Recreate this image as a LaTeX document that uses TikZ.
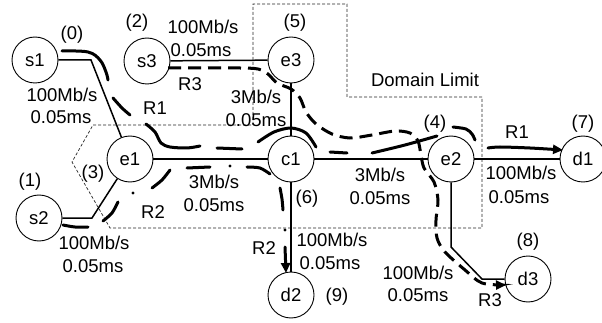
\documentclass[tikz,border=0pt]{standalone}
\usepackage{fontspec}
\setmainfont{Liberation Sans}
\usetikzlibrary{arrows.meta}
\begin{document}
\begin{tikzpicture}[x=1pt,y=-1pt,
  nd/.style={circle,draw,line width=0.9pt,minimum size=46pt,inner sep=0pt,font=\fontsize{18.5}{21}\selectfont},
  lbl/.style={inner sep=0pt,text height=13.3pt,text depth=0pt,font=\fontsize{18.5}{21}\selectfont},
  lnk/.style={line width=1.5pt},
  rt/.style={line width=3pt,line cap=round},
  rtdash/.style={line width=3pt,dash pattern=on 13pt off 7pt},
  arrowhd/.style={-{Triangle[length=10pt,width=9pt]}},
  domlim/.style={line width=0.7pt,dash pattern=on 3pt off 2pt,black!85}]
\useasboundingbox (0,0) rectangle (602,323);

% domain limit
\draw[domlim] (93,125) -- (253,125) -- (253,4) -- (347,4) -- (347,97) -- (482,97) -- (482,228) -- (110,228) -- (72,162) -- cycle;

% nodes
\node[nd] (s1) at (35,60) {s1};
\node[nd] (s3) at (147,61) {s3};
\node[nd] (e3) at (291,60) {e3};
\node[nd] (e1) at (130,159) {e1};
\node[nd] (c1) at (291,159) {c1};
\node[nd] (e2) at (451,159) {e2};
\node[nd] (d1) at (583,159) {d1};
\node[nd] (s2) at (39,218) {s2};
\node[nd] (d2) at (291,295) {d2};
\node[nd] (d3) at (528,279) {d3};

% links
\draw[lnk] (s1.east) -- (91,60) -- (e1);
\draw[lnk] (s2.east) -- (92,218) -- (e1);
\draw[lnk] (s3) -- (e3);
\draw[lnk] (e3) -- (c1);
\draw[lnk] (e1) -- (c1);
\draw[lnk] (c1) -- (e2);
\draw[lnk] (e2) -- (d1);
\draw[lnk] (c1) -- (d2);
\draw[lnk] (e2.south) -- (451,247) -- (482,279) -- (d3.west);

% route R1
\draw[rt] plot[smooth,tension=0.6] coordinates {(62,51) (88,52) (100,60) (106,72) (108,80)};
\draw[rt] plot[smooth] coordinates {(113,98) (122,108) (130,115)};
\draw[rt] plot[smooth] coordinates {(146,124) (155,132) (161,143) (170,147) (187,148) (200,146)};
\draw[rt] (217,148) -- (242,149);
\draw[rt] plot[smooth] coordinates {(258,142) (274,132) (291,128) (306,133) (316,147)};
\draw[rt] (330,152) -- (347,153);
\draw[rt] plot[smooth] coordinates {(372,153) (405,145) (437,136)};
\draw[rt] plot[smooth] coordinates {(453,127) (466,129) (472,134) (475,140)};
\draw[rt,arrowhd] plot[smooth] coordinates {(488,148) (500,147) (530,148) (563,150)};

% route R2
\draw[rt] plot[smooth] coordinates {(63,225) (75,227) (88,227)};
\draw[rt] plot[smooth] coordinates {(103,221) (112,213) (118,202)};
\fill (133,193) circle (1.6pt);
\draw[rt] plot[smooth] coordinates {(152,188) (162,180) (170,170)};
\draw[rt] (187,168) -- (210,167);
\fill (230,166) circle (1.6pt);
\draw[rt] plot[smooth] coordinates {(247,167) (260,168) (270,174)};
\draw[rt] plot[smooth] coordinates {(280,188) (282,199) (283,210)};
\fill (285,230) circle (1.6pt);
\draw[rt,arrowhd] (285,247) -- (286,273);

% route R3
\draw[rtdash,arrowhd] plot[smooth,tension=0.5] coordinates {(168,68) (200,68) (240,68) (258,69) (268,74) (277,83) (291,89) (300,98) (306,112) (316,124) (332,134) (350,138) (372,135) (395,131) (410,133) (418,141) (421,155) (424,168) (434,182) (438,200) (436,220) (437,238) (445,252) (465,270) (482,283) (506,285)};

% labels
\node[lbl] (l0) at (72,33) {(0)};
\node[lbl] (l2) at (137,21) {(2)};
\node[lbl] (bw1) at (203,27) {100Mb/s};
\node[lbl] (dl1) at (201,50) {0.05ms};
\node[lbl] (r3a) at (190,84) {R3};
\node[lbl] (l5) at (295,21) {(5)};
\node[lbl] (bw2) at (256,97) {3Mb/s};
\node[lbl] (dl2) at (256,120) {0.05ms};
\node[lbl] (dom) at (425,80) {Domain Limit};
\node[lbl] (bw3) at (62,95) {100Mb/s};
\node[lbl] (dl3) at (61,117) {0.05ms};
\node[lbl] (r1a) at (155,108) {R1};
\node[lbl] (l3) at (93,172) {(3)};
\node[lbl] (l1) at (30,180) {(1)};
\node[lbl] (r2a) at (153,212) {R2};
\node[lbl] (bw4) at (94,243) {100Mb/s};
\node[lbl] (dl4) at (93,266) {0.05ms};
\node[lbl] (bw5) at (214,182) {3Mb/s};
\node[lbl] (dl5) at (214,205) {0.05ms};
\node[lbl] (l6) at (307,197) {(6)};
\node[lbl] (r2b) at (264,248) {R2};
\node[lbl] (bw6) at (332,240) {100Mb/s};
\node[lbl] (dl6) at (330,263) {0.05ms};
\node[lbl] (l9) at (337,295) {(9)};
\node[lbl] (bw7) at (380,175) {3Mb/s};
\node[lbl] (dl7) at (380,198) {0.05ms};
\node[lbl] (l4) at (435,122) {(4)};
\node[lbl] (r1b) at (517,132) {R1};
\node[lbl] (l7) at (583,122) {(7)};
\node[lbl] (bw8) at (521,173) {100Mb/s};
\node[lbl] (dl8) at (519,197) {0.05ms};
\node[lbl] (l8) at (528,240) {(8)};
\node[lbl] (bw9) at (418,273) {100Mb/s};
\node[lbl] (dl9) at (418,295) {0.05ms};
\node[lbl] (r3b) at (490,300) {R3};
\end{tikzpicture}
\end{document}
